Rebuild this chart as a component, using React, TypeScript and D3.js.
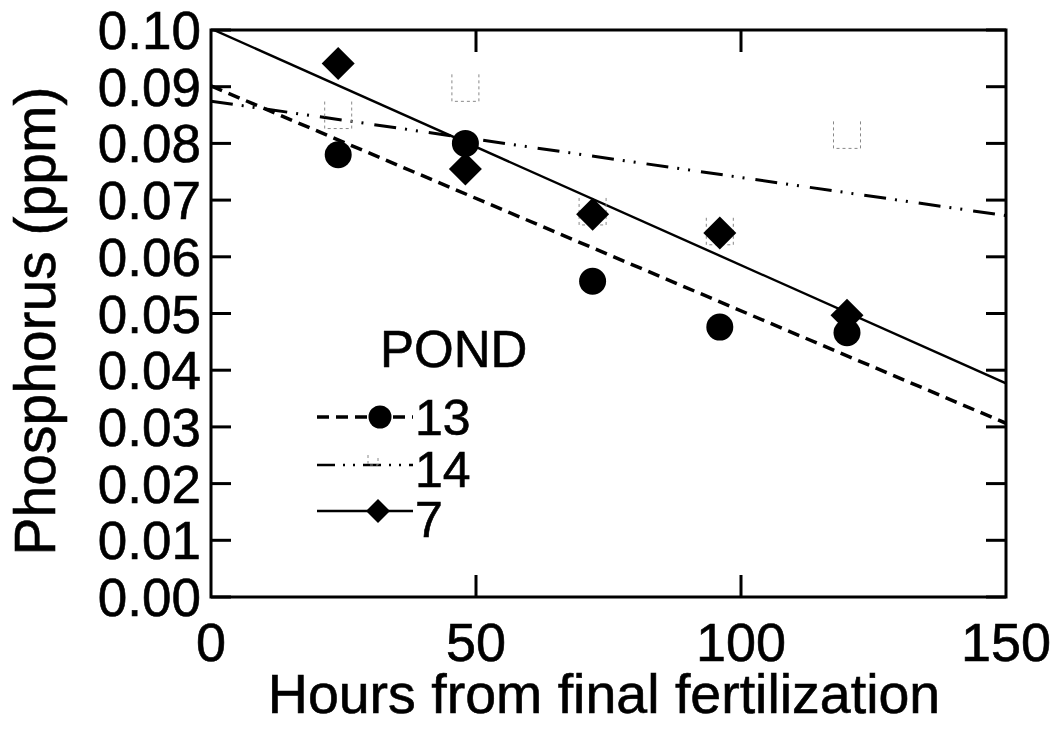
import React from "react";
import * as d3 from "d3";

const hours = [24, 48, 72, 96, 120];
const pond13 = [0.078, 0.08, 0.0557, 0.0476, 0.0466];
const pond14 = [0.085, 0.0898, 0.068, 0.0645, 0.0815];
const pond7 = [0.0941, 0.0755, 0.0675, 0.0642, 0.0497];
const xTicks = [0, 50, 100, 150];
const yTicks = [0, 0.01, 0.02, 0.03, 0.04, 0.05, 0.06, 0.07, 0.08, 0.09, 0.1];
const legendTitle = "POND";
const legendLabels = ["13", "14", "7"];

const W = 1058;
const H = 729;
const L = 211, R = 1006, T = 30, B = 597;
const FONT = "'Liberation Sans', Arial, Helvetica, sans-serif";

const x = d3.scaleLinear().domain([0, 150]).range([L, R]);
const y = d3.scaleLinear().domain([0, 0.1]).range([B, T]);

function fit(xs: number[], ys: number[]) {
  const mx = d3.mean(xs)!;
  const my = d3.mean(ys)!;
  let sxy = 0, sxx = 0;
  xs.forEach((v, i) => {
    sxy += (v - mx) * (ys[i] - my);
    sxx += (v - mx) * (v - mx);
  });
  const b = sxy / sxx;
  const a = my - b * mx;
  return (v: number) => a + b * v;
}

function fitPath(vals: number[]) {
  const f = fit(hours, vals);
  return d3
    .line<number>()
    .x((d) => x(d))
    .y((d) => y(f(d)))([0, 150]) as string;
}

const DASH13 = "12,7";
const DASH14 = "22,9,2,9,2,11";

function Circle({ cx, cy, r }: { cx: number; cy: number; r: number }) {
  return <circle cx={cx} cy={cy} r={r} fill="#000" />;
}
function Diamond({ cx, cy, s }: { cx: number; cy: number; s: number }) {
  return (
    <path
      d={`M${cx},${cy - s}L${cx + s},${cy}L${cx},${cy + s}L${cx - s},${cy}Z`}
      fill="#000"
    />
  );
}
function Square({ cx, cy, s }: { cx: number; cy: number; s: number }) {
  return (
    <path
      d={`M${cx - s},${cy - s}V${cy + s}H${cx + s}V${cy - s}`}
      fill="none"
      stroke="#888"
      strokeWidth={1}
      strokeDasharray="3,3"
    />
  );
}

const textStyle = { fill: "#000", stroke: "#000", strokeWidth: 0.6 };

export default function App() {
  const legendY = [417, 465, 511];
  const legendBase = [435, 487, 537];
  return (
    <svg
      width={W}
      height={H}
      style={{ position: "absolute", left: 0, top: 0, background: "#fff" }}
      fontFamily={FONT}
    >
      <rect x={0} y={0} width={W} height={H} fill="#fff" />
      <defs>
        <clipPath id="plotclip">
          <rect x={L} y={T} width={R - L} height={B - T} />
        </clipPath>
      </defs>

      {/* fitted lines */}
      <g clipPath="url(#plotclip)" fill="none" stroke="#000">
        <path d={fitPath(pond14)} strokeWidth={3} strokeDasharray={DASH14} />
        <path d={fitPath(pond13)} strokeWidth={3.5} strokeDasharray={DASH13} />
        <path d={fitPath(pond7)} strokeWidth={2.4} />
      </g>

      {/* markers */}
      {hours.map((h, i) => (
        <Square key={"s" + i} cx={x(h)} cy={y(pond14[i])} s={13.5} />
      ))}
      {hours.map((h, i) => (
        <Circle key={"c" + i} cx={x(h)} cy={y(pond13[i])} r={13.5} />
      ))}
      {hours.map((h, i) => (
        <Diamond key={"d" + i} cx={x(h)} cy={y(pond7[i])} s={16.5} />
      ))}

      {/* frame */}
      <rect x={L} y={T} width={R - L} height={B - T} fill="none" stroke="#000" strokeWidth={3} />

      {/* y ticks */}
      {yTicks.map((t) => (
        <g key={"yt" + t}>
          <line x1={L} x2={L + 20} y1={y(t)} y2={y(t)} stroke="#000" strokeWidth={3} />
          <line x1={R} x2={R - 20} y1={y(t)} y2={y(t)} stroke="#000" strokeWidth={3} />
          <text
            x={L - 10}
            y={y(t)}
            dy="0.36em"
            textAnchor="end"
            fontSize={53}
            {...textStyle}
          >
            {t.toFixed(2)}
          </text>
        </g>
      ))}

      {/* x ticks */}
      {xTicks.map((t) => (
        <g key={"xt" + t}>
          {t > 0 && t < 150 && (
            <>
              <line x1={x(t)} x2={x(t)} y1={B} y2={B - 22} stroke="#000" strokeWidth={3} />
              <line x1={x(t)} x2={x(t)} y1={T} y2={T + 22} stroke="#000" strokeWidth={3} />
            </>
          )}
          <text x={x(t)} y={661} textAnchor="middle" fontSize={54} {...textStyle}>
            {t}
          </text>
        </g>
      ))}

      {/* axis titles */}
      <text x={604} y={713} textAnchor="middle" fontSize={55.5} {...textStyle}>
        Hours from final fertilization
      </text>
      <text
        transform={`translate(55, 321) rotate(-90)`}
        textAnchor="middle"
        fontSize={57}
        {...textStyle}
      >
        Phosphorus (ppm)
      </text>

      {/* legend */}
      <text x={380} y={367} fontSize={51} {...textStyle}>
        {legendTitle}
      </text>
      <line x1={317} x2={413} y1={legendY[0]} y2={legendY[0]} stroke="#000" strokeWidth={3.5} strokeDasharray="12,7" />
      <Circle cx={380} cy={legendY[0]} r={11.5} />
      <line x1={317} x2={413} y1={legendY[1]} y2={legendY[1]} stroke="#000" strokeWidth={2.5} strokeDasharray="18,8,2,8,2,8" />
      <Square cx={373} cy={legendY[1] - 5} s={5} />
      <line x1={317} x2={413} y1={legendY[2]} y2={legendY[2]} stroke="#000" strokeWidth={2.4} />
      <Diamond cx={378} cy={legendY[2]} s={12} />
      {legendLabels.map((lab, i) => (
        <text key={lab} x={415} y={legendBase[i]} fontSize={50} {...textStyle}>
          {lab}
        </text>
      ))}
    </svg>
  );
}
